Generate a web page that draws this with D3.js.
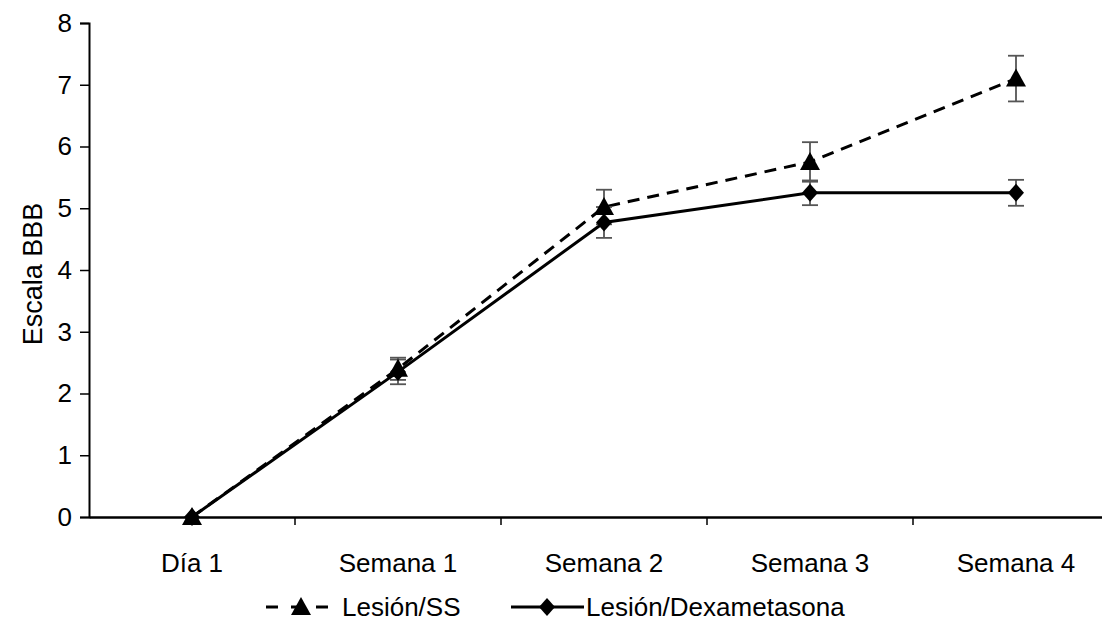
<!DOCTYPE html>
<html>
<head>
<meta charset="utf-8">
<script src="https://cdn.jsdelivr.net/npm/d3@7"></script>
<style>
  body { margin: 0; background: #fff; }
  svg { display: block; font-family: "Liberation Sans", Arial, sans-serif; }
</style>
</head>
<body>
<svg id="chart"></svg>
<script>
// data
const categories = ['Día 1', 'Semana 1', 'Semana 2', 'Semana 3', 'Semana 4'];
const ssValues = [0, 2.4, 5.02, 5.75, 7.1];
const ssErrors = [0, 0.18, 0.28, 0.32, 0.37];
const dexValues = [0, 2.35, 4.77, 5.25, 5.25];
const dexErrors = [0, 0.2, 0.25, 0.2, 0.21];
const yTicks = [0, 1, 2, 3, 4, 5, 6, 7, 8];
const seriesNames = ['Lesión/SS', 'Lesión/Dexametasona'];

let width = 1102;
let height = 625;
let padLeft = 89, padTop = 23, axisY = 517;

const svg = d3.select('#chart').attr('width', width).attr('height', height);

const xScale = d3.scaleBand().domain(categories).range([padLeft, padLeft + 5 * 206]).paddingInner(0).paddingOuter(0);
const yScale = d3.scaleLinear().domain([0, 8]).range([axisY, padTop]);
const cx = (c) => xScale(c) + xScale.bandwidth() / 2;

// y axis
const yAxis = d3.axisLeft(yScale).tickValues(yTicks).tickFormat(d3.format('d')).tickSize(9).tickPadding(8);
const gy = svg.append('g').attr('transform', 'translate(' + padLeft + ',0)').call(yAxis);
gy.select('.domain').attr('stroke', '#000').attr('stroke-width', 2);
gy.selectAll('.tick line').attr('stroke', '#000').attr('stroke-width', 1.5);
gy.selectAll('text').attr('font-size', 26).attr('fill', '#000').attr('font-family', '"Liberation Sans", Arial, sans-serif');

// x axis: labels centered, ticks between categories
const xAxis = d3.axisBottom(xScale).tickSize(0).tickPadding(0);
const gx = svg.append('g').attr('transform', 'translate(0,' + axisY + ')').call(xAxis);
gx.select('.domain').attr('stroke', '#000').attr('stroke-width', 2.5);
gx.selectAll('text').attr('font-size', 26).attr('fill', '#000').attr('y', 55).attr('dy', 0)
  .attr('font-family', '"Liberation Sans", Arial, sans-serif');
gx.selectAll('.boundary').data(categories.slice(1)).enter().append('line')
  .attr('x1', (d) => xScale(d)).attr('x2', (d) => xScale(d))
  .attr('y1', 0).attr('y2', 8).attr('stroke', '#000').attr('stroke-width', 1.5);

const ss = categories.map((c, i) => ({c: c, v: ssValues[i], e: ssErrors[i]}));
const dex = categories.map((c, i) => ({c: c, v: dexValues[i], e: dexErrors[i]}));

const line = d3.line().x((d) => cx(d.c)).y((d) => yScale(d.v));

svg.append('path').datum(dex).attr('d', line).attr('fill', 'none').attr('stroke', '#000').attr('stroke-width', 3);
svg.append('path').datum(ss).attr('d', line).attr('fill', 'none').attr('stroke', '#000').attr('stroke-width', 3)
  .attr('stroke-dasharray', '12,8');

// error bars
const errBars = (data) => {
  const g = svg.append('g').attr('stroke', '#555').attr('stroke-width', 1.8);
  data.filter((d) => d.e > 0).forEach((d) => {
    const x = cx(d.c);
    g.append('line').attr('x1', x).attr('x2', x).attr('y1', yScale(d.v - d.e)).attr('y2', yScale(d.v + d.e));
    [d.v - d.e, d.v + d.e].forEach((v) => {
      g.append('line').attr('x1', x - 8).attr('x2', x + 8).attr('y1', yScale(v)).attr('y2', yScale(v));
    });
  });
};
errBars(dex);
errBars(ss);

const triangle = 'M0,-10L10,8L-10,8Z';
const diamond = 'M0,-9L8,0L0,9L-8,0Z';

svg.selectAll('.dex').data(dex).enter().append('path').attr('class', 'dex')
  .attr('d', diamond).attr('fill', '#000')
  .attr('transform', (d) => 'translate(' + cx(d.c) + ',' + yScale(d.v) + ')');
svg.selectAll('.ss').data(ss).enter().append('path').attr('class', 'ss')
  .attr('d', triangle).attr('fill', '#000')
  .attr('transform', (d) => 'translate(' + cx(d.c) + ',' + yScale(d.v) + ')');

// y label
svg.append('text').attr('transform', 'translate(42,' + ((padTop + axisY) / 2 + 4) + ') rotate(-90)')
  .attr('text-anchor', 'middle').attr('font-size', 27).attr('fill', '#000').text('Escala BBB');

// legend
const lg = svg.append('g').attr('transform', 'translate(0,607)');
lg.append('line').attr('x1', 266).attr('x2', 328).attr('y1', 0).attr('y2', 0)
  .attr('stroke', '#000').attr('stroke-width', 3).attr('stroke-dasharray', '12,13');
lg.append('path').attr('d', triangle).attr('transform', 'translate(301,0)').attr('fill', '#000');
lg.append('text').attr('x', 342).attr('y', 9).attr('font-size', 26).attr('fill', '#000').text(seriesNames[0]);
lg.append('line').attr('x1', 511).attr('x2', 584).attr('y1', 0).attr('y2', 0)
  .attr('stroke', '#000').attr('stroke-width', 3);
lg.append('path').attr('d', diamond).attr('transform', 'translate(547,0)').attr('fill', '#000');
lg.append('text').attr('x', 586).attr('y', 9).attr('font-size', 26).attr('fill', '#000').text(seriesNames[1]);
</script>
</body>
</html>
